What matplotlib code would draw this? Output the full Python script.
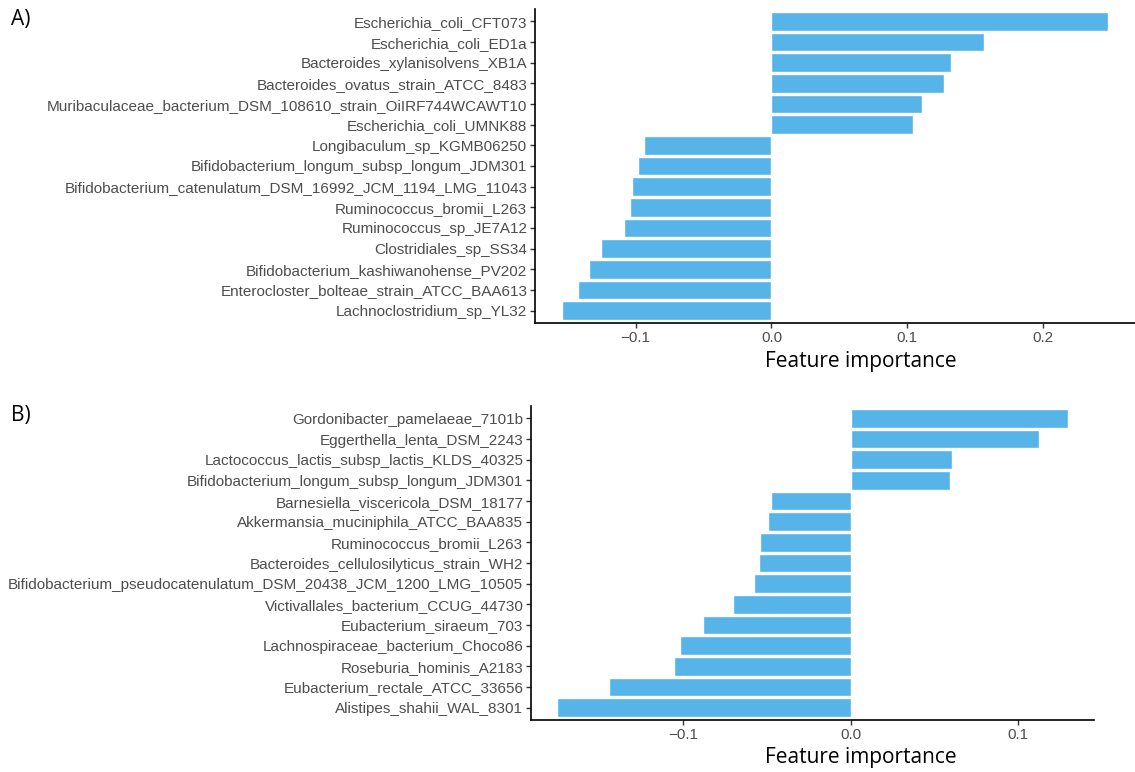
import numpy as np
import matplotlib.pyplot as plt
from matplotlib.ticker import FuncFormatter

# Panel A: top-ranked taxa
species_a = ['Escherichia_coli_CFT073', 'Escherichia_coli_ED1a',
             'Bacteroides_xylanisolvens_XB1A', 'Bacteroides_ovatus_strain_ATCC_8483',
             'Muribaculaceae_bacterium_DSM_108610_strain_OiIRF744WCAWT10',
             'Escherichia_coli_UMNK88', 'Longibaculum_sp_KGMB06250',
             'Bifidobacterium_longum_subsp_longum_JDM301',
             'Bifidobacterium_catenulatum_DSM_16992_JCM_1194_LMG_11043',
             'Ruminococcus_bromii_L263', 'Ruminococcus_sp_JE7A12',
             'Clostridiales_sp_SS34', 'Bifidobacterium_kashiwanohense_PV202',
             'Enterocloster_bolteae_strain_ATCC_BAA613', 'Lachnoclostridium_sp_YL32']
importance_a = [0.2477, 0.1567, 0.1323, 0.1270, 0.1108, 0.1041, -0.0939, -0.0985,
                -0.1026, -0.1041, -0.1084, -0.1256, -0.1346, -0.1427, -0.1541]

# Panel B
species_b = ['Gordonibacter_pamelaeae_7101b', 'Eggerthella_lenta_DSM_2243',
             'Lactococcus_lactis_subsp_lactis_KLDS_40325',
             'Bifidobacterium_longum_subsp_longum_JDM301',
             'Barnesiella_viscericola_DSM_18177', 'Akkermansia_muciniphila_ATCC_BAA835',
             'Ruminococcus_bromii_L263', 'Bacteroides_cellulosilyticus_strain_WH2',
             'Bifidobacterium_pseudocatenulatum_DSM_20438_JCM_1200_LMG_10505',
             'Victivallales_bacterium_CCUG_44730', 'Eubacterium_siraeum_703',
             'Lachnospiraceae_bacterium_Choco86', 'Roseburia_hominis_A2183',
             'Eubacterium_rectale_ATCC_33656', 'Alistipes_shahii_WAL_8301']
importance_b = [0.1300, 0.1127, 0.0603, 0.0592, -0.0477, -0.0495, -0.0538, -0.0545,
                -0.0577, -0.0700, -0.0883, -0.1016, -0.1054, -0.1439, -0.1754]

xticks_a = [-0.1, 0.0, 0.1, 0.2]
xticks_b = [-0.1, 0.0, 0.1]

bar_color = '#56B4E9'
label_font = 'Open Sans'
tick_font = 'Liberation Sans'


def draw_panel(ax, names, values, ticks):
	pos = np.arange(len(names))
	ax.barh(pos, values, height=0.9, color=bar_color, edgecolor='white', linewidth=1.0)
	ax.set_yticks(pos)
	ax.set_yticklabels(names, family=tick_font, fontsize=11, color='#4D4D4D')
	ax.set_ylim(len(names) - 0.4, -0.6)
	lo, hi = min(values), max(values)
	pad = 0.05 * (hi - lo)
	ax.set_xlim(lo - pad, hi + pad)
	ax.set_xticks(ticks)
	ax.xaxis.set_major_formatter(FuncFormatter(lambda v, _: f'{v:.1f}'.replace('-', '\u2212')))
	for lab in ax.get_xticklabels():
		lab.set_family(tick_font)
		lab.set_fontsize(11)
		lab.set_color('#4D4D4D')
	ax.spines['top'].set_visible(False)
	ax.spines['right'].set_visible(False)
	ax.spines['left'].set_linewidth(1.2)
	ax.spines['bottom'].set_linewidth(1.2)
	ax.tick_params(axis='both', length=3.5, width=1.0, color='#333333', pad=2)


fig = plt.figure(figsize=(11.35, 7.72), dpi=100)

ax1 = fig.add_axes([535 / 1135, 1 - 323 / 772, 600 / 1135, 314 / 772])
draw_panel(ax1, species_a, importance_a, xticks_a)

ax2 = fig.add_axes([531 / 1135, 1 - 720 / 772, 563 / 1135, 314 / 772])
draw_panel(ax2, species_b, importance_b, xticks_b)

fig.text(861 / 1135, 1 - 361 / 772, 'Feature importance', family=label_font,
		 fontsize=15, ha='center', va='center')
fig.text(861 / 1135, 1 - 758 / 772, 'Feature importance', family=label_font,
		 fontsize=15, ha='center', va='center')
fig.text(11 / 1135, 1 - 20 / 772, 'A)', family=label_font, fontsize=15, va='center')
fig.text(11 / 1135, 1 - 415 / 772, 'B)', family=label_font, fontsize=15, va='center')

fig.savefig('out.png', dpi=100)
